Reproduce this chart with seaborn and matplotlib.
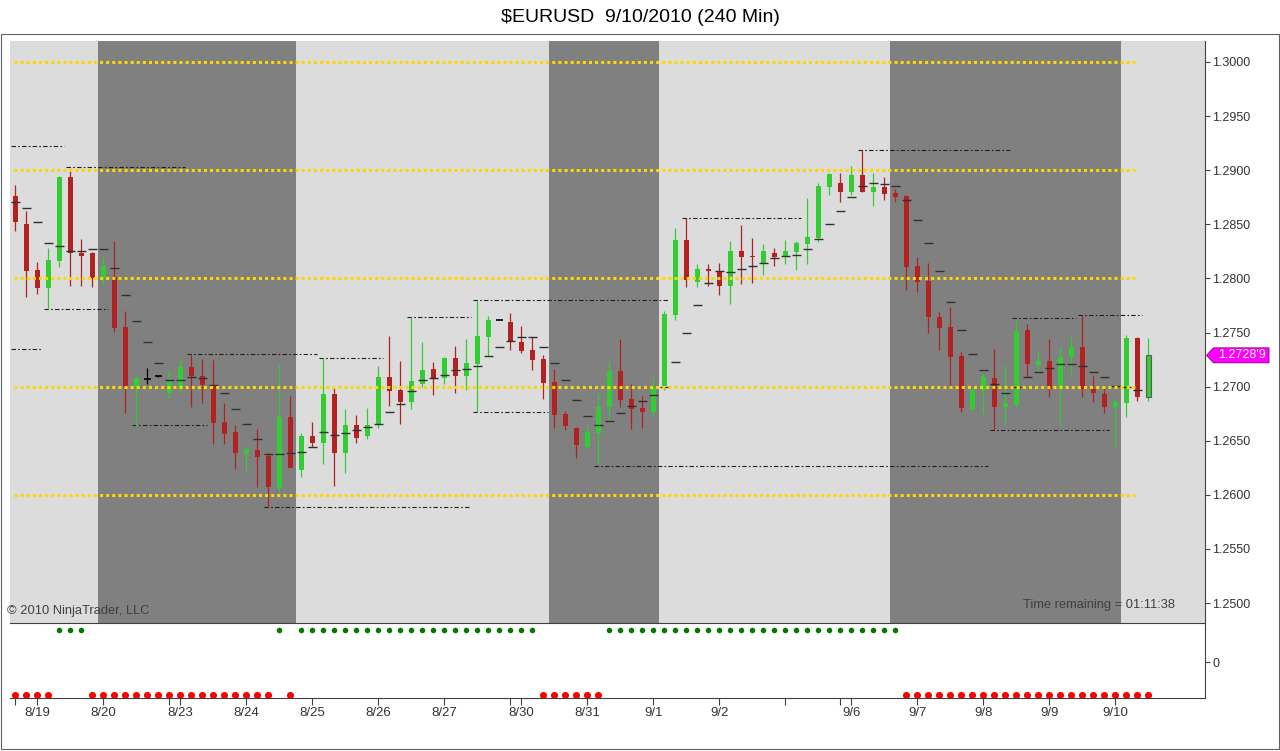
"""
$EURUSD 240 min candles, 8/18 - 9/10/2010, NinjaTrader style chart
"""

import numpy as np
import pandas as pd
import matplotlib
matplotlib.use("Agg")
import matplotlib.pyplot as plt
import matplotlib.transforms as mtransforms
from matplotlib.patches import Polygon, Rectangle
import seaborn as sns


# Bars (open / high / low / close)
opens = [
    1.28762, 1.28503, 1.28078, 1.27914, 1.28164, 1.28940, 1.28238, 1.28238, 1.28004, 1.28016,
    1.27554, 1.26999, 1.27067, 1.27095, 1.26938, 1.26984, 1.27178, 1.27101, 1.27006, 1.26676,
    1.26583, 1.26377, 1.26414, 1.26361, 1.26060, 1.26722, 1.26229, 1.26543, 1.26482, 1.26932,
    1.26384, 1.26645, 1.26543, 1.26654, 1.27086, 1.26969, 1.26860, 1.27024, 1.27163, 1.27077,
    1.27262, 1.27101, 1.27209, 1.27461, 1.27616, 1.27594, 1.27409, 1.27338, 1.27252, 1.27040,
    1.26747, 1.26615, 1.26445, 1.26574, 1.26809, 1.27147, 1.26883, 1.26799, 1.26768, 1.27006,
    1.27662, 1.28355, 1.27970, 1.28084, 1.28071, 1.27930, 1.28253, 1.28207, 1.28133, 1.28232,
    1.28201, 1.28247, 1.28318, 1.28371, 1.28848, 1.28884, 1.28801, 1.28956, 1.28801, 1.28848,
    1.28792, 1.28762, 1.28115, 1.27979, 1.27646, 1.27554, 1.27283, 1.26790, 1.26969, 1.27077,
    1.26811, 1.26830, 1.27523, 1.27200, 1.27237, 1.26984, 1.27276, 1.27369, 1.26975, 1.26932,
    1.26809, 1.26846, 1.27446, 1.26901,
]
highs = [
    1.28863, 1.28623, 1.28149, 1.28281, 1.28945, 1.29002, 1.28364, 1.28247, 1.28201, 1.28346,
    1.27699, 1.27098, 1.27175, 1.27100, 1.27153, 1.27246, 1.27301, 1.27252, 1.27246, 1.26846,
    1.26645, 1.26432, 1.26605, 1.26384, 1.27200, 1.26913, 1.26568, 1.26673, 1.27262, 1.26984,
    1.26790, 1.26738, 1.26799, 1.27190, 1.27468, 1.27237, 1.27640, 1.27415, 1.27230, 1.27274,
    1.27375, 1.27437, 1.27794, 1.27652, 1.27620, 1.27683, 1.27560, 1.27461, 1.27289, 1.27163,
    1.26777, 1.26629, 1.26645, 1.26938, 1.27239, 1.27437, 1.27024, 1.26913, 1.27091, 1.27701,
    1.28463, 1.28555, 1.28133, 1.28133, 1.28140, 1.28348, 1.28494, 1.28376, 1.28318, 1.28284,
    1.28355, 1.28348, 1.28740, 1.28884, 1.28977, 1.28977, 1.29039, 1.29187, 1.28971, 1.28934,
    1.28823, 1.28771, 1.28201, 1.28145, 1.27692, 1.27738, 1.27323, 1.26984, 1.27123, 1.27345,
    1.27200, 1.27622, 1.27579, 1.27323, 1.27437, 1.27369, 1.27468, 1.27662, 1.27098, 1.27015,
    1.26883, 1.27477, 1.27456, 1.27446,
]
lows = [
    1.28441, 1.27825, 1.27856, 1.27714, 1.28108, 1.27930, 1.27930, 1.27923, 1.27939, 1.27507,
    1.26759, 1.26636, 1.27024, 1.27090, 1.26892, 1.26938, 1.26814, 1.26846, 1.26470, 1.26470,
    1.26236, 1.26214, 1.26069, 1.25890, 1.26029, 1.26245, 1.26167, 1.26445, 1.26285, 1.26081,
    1.26204, 1.26482, 1.26513, 1.26615, 1.26821, 1.26654, 1.26793, 1.26999, 1.26922, 1.27024,
    1.26944, 1.26969, 1.26768, 1.27283, 1.27612, 1.27338, 1.27308, 1.27153, 1.26883, 1.26615,
    1.26599, 1.26337, 1.26430, 1.26285, 1.26682, 1.26809, 1.26605, 1.26615, 1.26728, 1.26969,
    1.27616, 1.27923, 1.27923, 1.27930, 1.27847, 1.27763, 1.27948, 1.27960, 1.28031, 1.28115,
    1.28133, 1.28078, 1.28133, 1.28339, 1.28771, 1.28709, 1.28771, 1.28795, 1.28669, 1.28725,
    1.28709, 1.27893, 1.27877, 1.27493, 1.27338, 1.26999, 1.26768, 1.26777, 1.26747, 1.26599,
    1.26654, 1.26809, 1.27086, 1.27138, 1.26901, 1.26645, 1.27086, 1.26907, 1.26860, 1.26759,
    1.26439, 1.26722, 1.26870, 1.26870,
]
closes = [
    1.28524, 1.28071, 1.27914, 1.28170, 1.28940, 1.28232, 1.28207, 1.28001, 1.28115, 1.27539,
    1.26999, 1.27079, 1.27067, 1.27095, 1.27045, 1.27178, 1.27098, 1.27019, 1.26666, 1.26562,
    1.26389, 1.26423, 1.26352, 1.26075, 1.26722, 1.26250, 1.26543, 1.26482, 1.26932, 1.26389,
    1.26642, 1.26522, 1.26645, 1.27086, 1.26962, 1.26860, 1.27052, 1.27153, 1.27077, 1.27262,
    1.27101, 1.27215, 1.27468, 1.27616, 1.27616, 1.27409, 1.27332, 1.27246, 1.27036, 1.26738,
    1.26639, 1.26460, 1.26583, 1.26809, 1.27147, 1.26876, 1.26790, 1.26768, 1.26994, 1.27671,
    1.28355, 1.27985, 1.28084, 1.28071, 1.27930, 1.28253, 1.28201, 1.28195, 1.28253, 1.28195,
    1.28253, 1.28324, 1.28385, 1.28854, 1.28965, 1.28801, 1.28956, 1.28801, 1.28848, 1.28780,
    1.28750, 1.28108, 1.27970, 1.27640, 1.27544, 1.27276, 1.26799, 1.26969, 1.27086, 1.26814,
    1.26846, 1.27517, 1.27209, 1.27239, 1.26975, 1.27276, 1.27369, 1.26975, 1.26944, 1.26809,
    1.26860, 1.27446, 1.26901, 1.27289,
]

# trailing indicator drawn as a short dash on every bar
trail = [
    1.28706, 1.28648, 1.28521, 1.28324, 1.28299, 1.28253, 1.28253, 1.28272, 1.28272, 1.28093,
    1.27847, 1.27604, 1.27412, 1.27215, 1.27061, 1.27061, 1.27091, 1.27077, 1.27012, 1.26938,
    1.26790, 1.26654, 1.26513, 1.26374, 1.26374, 1.26384, 1.26398, 1.26442, 1.26578, 1.26550,
    1.26568, 1.26599, 1.26627, 1.26651, 1.26762, 1.26836, 1.26959, 1.27061, 1.27082, 1.27104,
    1.27153, 1.27160, 1.27190, 1.27283, 1.27363, 1.27424, 1.27461, 1.27456, 1.27369, 1.27215,
    1.27061, 1.26876, 1.26726, 1.26642, 1.26682, 1.26756, 1.26821, 1.26864, 1.26920, 1.26999,
    1.27225, 1.27493, 1.27751, 1.27960, 1.28071, 1.28062, 1.28084, 1.28115, 1.28140, 1.28186,
    1.28210, 1.28213, 1.28269, 1.28361, 1.28500, 1.28623, 1.28750, 1.28854, 1.28879, 1.28870,
    1.28854, 1.28725, 1.28540, 1.28324, 1.28068, 1.27779, 1.27520, 1.27299, 1.27153, 1.27021,
    1.26938, 1.26999, 1.27086, 1.27138, 1.27169, 1.27206, 1.27206, 1.27190, 1.27135, 1.27086,
    1.27006, 1.26994, 1.26969, np.nan,
]

# session high/low lines (dash-dot): price, first bar, last bar
hl_price = [1.29224, 1.29027, 1.27714, 1.27345, 1.27301, 1.26642, 1.27261, 1.25884, 1.27640,
            1.27800, 1.26762, 1.26266, 1.28555, 1.29187, 1.27630, 1.27662, 1.26599]
hl_first = [0, 5, 3, 0, 16, 11, 28, 23, 36, 42, 42, 53, 61, 77, 91, 97, 89]
hl_last = [4, 15, 8, 2, 27, 17, 33, 41, 41, 59, 48, 88, 71, 90, 96, 102, 99]

# round number levels (yellow dotted)
round_levels = [1.26, 1.27, 1.28, 1.29, 1.30]

# background sessions: boundaries in bars and shade
session_edges = [-0.5, 7.5, 25.5, 48.5, 58.5, 79.5, 100.5, 110]
session_shade = ["#DCDCDC", "#808080", "#DCDCDC", "#808080", "#DCDCDC", "#808080", "#DCDCDC"]

# lower panel trend state, as runs of (state, number of bars)
trend_runs = [(-1, 4), (1, 3), (-1, 17), (1, 1), (-1, 1), (1, 22), (-1, 6), (1, 27), (-1, 23)]

tick_bars = [0, 2, 8, 14, 15, 21, 27, 33, 39, 45, 46, 52, 58, 64, 70, 75, 76, 82, 88, 94, 100]
tick_labels = ["", "8/19", "8/20", "", "8/23", "8/24", "8/25", "8/26", "8/27", "",
               "8/30", "8/31", "9/1", "9/2", "", "", "9/6", "9/7", "9/8", "9/9", "9/10"]

GREEN = "#32CD32"
RED = "#B22222"
DARK = "#404040"

sns.set_style("white")
plt.rcParams["font.family"] = ["Liberation Sans", "DejaVu Sans"]

W, H = 1280, 751


def fx(px):
    return px / W


def fy(py):
    return 1 - py / H


fig = plt.figure(figsize=(12.8, 7.51), dpi=100)
ax = fig.add_axes([fx(10), fy(622.5), fx(1205) - fx(10), fy(41) - fy(622.5)])
ax2 = fig.add_axes([fx(10), fy(698), fx(1205) - fx(10), fy(622.5) - fy(698)], sharex=ax)

x = np.arange(len(closes))
o = np.array(opens)
h = np.array(highs)
l = np.array(lows)
c = np.array(closes)

# Background sessions
for left, right, shade in zip(session_edges[:-1], session_edges[1:], session_shade):
    ax.axvspan(left, right, color=shade, lw=0, zorder=0)

# Session high / low lines
ax.hlines(hl_price, np.array(hl_first) - 0.4, np.array(hl_last) + 0.4,
          colors="#202020", lw=0.8, linestyles=(0, (4, 2, 1.5, 2)), zorder=2)

# Candles
up = c > o + 1e-6
down = c < o - 1e-6
doji = ~(up | down)
col = np.where(up, GREEN, np.where(down, RED, "black"))
ax.vlines(x, l, h, colors=col, lw=0.9, zorder=3)
body_lo = np.minimum(o, c)
body_h = np.maximum(np.abs(c - o), 0.00009)
solid = ~doji
ax.bar(x[solid], body_h[solid], width=0.5, bottom=body_lo[solid], color=col[solid],
       linewidth=0, zorder=4)
ax.hlines(o[doji], x[doji] - 0.28, x[doji] + 0.28, colors="black", lw=1.2, zorder=4)
# last (live) bar has an outline
ax.bar(x[-1], body_h[-1], width=0.5, bottom=body_lo[-1], color=col[-1],
       edgecolor="#5A5A5A", linewidth=0.8, zorder=4)

# Indicator dashes
ax.hlines(trail, x - 0.42, x + 0.42, colors="#303030", lw=1.0, zorder=5)

# Round number levels
ax.hlines(round_levels, -0.15, 101.8, colors="#FFD700", lw=2.2,
          linestyles=(0, (1, 1)), zorder=6)

ax.set_xlim(-0.5, 108.14)
ax.set_ylim(1.24820, 1.30194)
ax.set_yticks(np.arange(1.25, 1.30001, 0.005))
ax.yaxis.set_major_formatter(plt.FuncFormatter(lambda v, p: f"{v:.4f}"))
ax.yaxis.tick_right()
ax.tick_params(axis="y", right=True, left=False, labelright=True, labelleft=False,
               length=3.6, width=0.8, color=DARK, labelsize=9, labelcolor="#333333", pad=1.5)
ax.tick_params(axis="x", bottom=False, labelbottom=False)
for side in ["top", "left", "bottom"]:
    ax.spines[side].set_visible(False)
ax.spines["right"].set_color(DARK)
ax.spines["right"].set_linewidth(0.8)
ax.set_xlabel("")
ax.set_ylabel("")

# Lower panel: trend dots
state = np.concatenate([[s] * n for s, n in trend_runs])
sig = pd.DataFrame({"bar": x, "state": state})
sns.scatterplot(data=sig[sig["state"] > 0], x="bar", y="state", color="#007A00", s=16,
                linewidth=0, ax=ax2, legend=False)
sns.scatterplot(data=sig[sig["state"] < 0], x="bar", y="state", color="#FF0000", s=26,
                linewidth=0, ax=ax2, legend=False)
ax2.set_ylim(-1.09, 1.215)
ax2.set_yticks([0])
ax2.set_yticklabels(["0"])
ax2.yaxis.tick_right()
ax2.tick_params(axis="y", right=True, left=False, labelright=True, labelleft=False,
                length=3.6, width=0.8, color=DARK, labelsize=9, labelcolor="#333333", pad=1.5)
ax2.set_xticks(tick_bars)
ax2.set_xticklabels(tick_labels)
ax2.tick_params(axis="x", bottom=True, length=5, width=0.8, color=DARK, labelsize=9.5,
                labelcolor="#333333", pad=1.5)
ax2.spines["left"].set_visible(False)
for side in ["top", "bottom", "right"]:
    ax2.spines[side].set_color(DARK)
    ax2.spines[side].set_linewidth(0.8)
ax2.set_xlabel("")
ax2.set_ylabel("")

# Last price marker on the axis
last = c[-1]
blend = mtransforms.blended_transform_factory(fig.transFigure, ax.transData)
hh = 7.5 / 10820
marker = Polygon([(fx(1206.5), last), (fx(1213.5), last + hh), (fx(1269), last + hh),
                  (fx(1269), last - hh), (fx(1213.5), last - hh)],
                 closed=True, transform=blend, facecolor="#FF00FF", edgecolor="#800080",
                 lw=0.6, clip_on=False, zorder=10)
fig.add_artist(marker)
pipettes = int(round(last * 1e5))
fig.text(fx(1242), last, f"{pipettes // 10 / 1e4:.4f}'{pipettes % 10}", transform=blend,
         ha="center", va="center", fontsize=9, color="white", zorder=11)

# Texts
fig.text(0.5, fy(17), "$EURUSD  9/10/2010 (240 Min)", ha="center", va="center",
         fontsize=14, color="black")
fig.text(fx(7), fy(611), "\u00a9 2010 NinjaTrader, LLC", ha="left", va="center",
         fontsize=9.3, color=DARK)
fig.text(fx(1175), fy(605), "Time remaining = 01:11:38", ha="right", va="center",
         fontsize=9.3, color=DARK)

# Outer frame
fig.add_artist(Rectangle((fx(1), fy(749)), fx(1279) - fx(1), fy(34) - fy(749),
                         transform=fig.transFigure, fill=False, edgecolor="#606060", lw=0.8))

fig.savefig("out.png", dpi=100)
